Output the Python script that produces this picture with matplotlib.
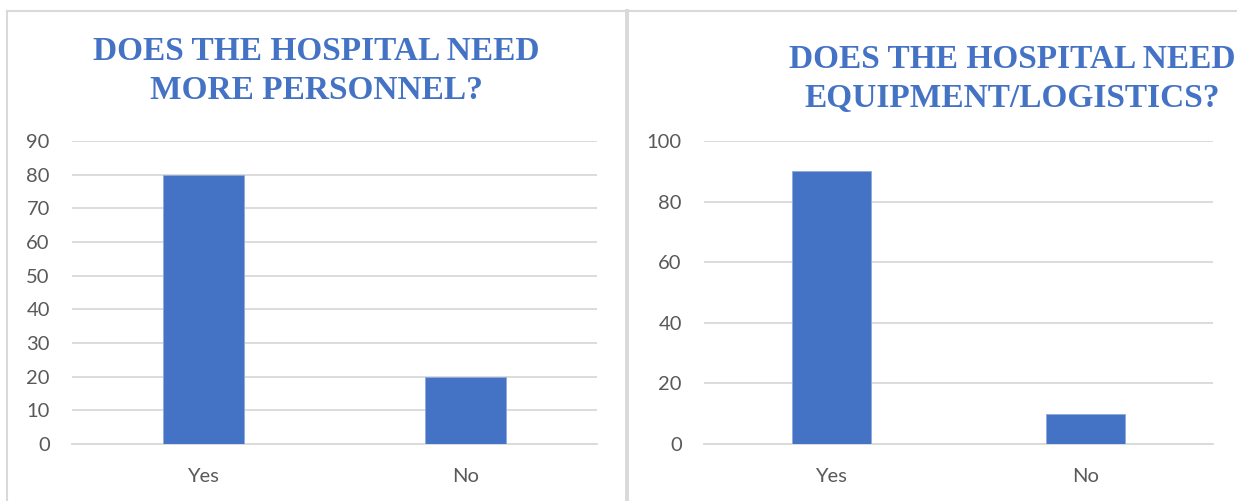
import matplotlib
matplotlib.use('Agg')
import matplotlib.pyplot as plt
from matplotlib.lines import Line2D

# data
categories = ['Yes', 'No']
personnel = [80, 20]
equipment = [90, 10]
title_left = 'DOES THE HOSPITAL NEED\nMORE PERSONNEL?'
title_right = 'DOES THE HOSPITAL NEED\nEQUIPMENT/LOGISTICS?'

W, H = 1237, 501
fig = plt.figure(figsize=(W / 100, H / 100), dpi=100)
fig.patch.set_facecolor('white')

bar_col = '#4472C4'
grid_col = '#D9D9D9'
txt_col = '#595959'
tick_font = 'Lato'


def setup(ax, values, ymax, step):
    ax.set_axisbelow(True)
    ax.bar(range(len(categories)), values, width=0.31, color=bar_col,
           edgecolor='#8FAADC', linewidth=0.6, zorder=3)
    ax.set_xlim(-0.5, len(categories) - 0.5)
    ax.set_ylim(0, ymax)
    ax.set_yticks(range(0, ymax + 1, step))
    ax.set_xticks(range(len(categories)))
    ax.set_xticklabels(categories)
    ax.yaxis.grid(True, color=grid_col, linewidth=1.3)
    for s in ['top', 'right', 'left']:
        ax.spines[s].set_visible(False)
    ax.spines['bottom'].set_color(grid_col)
    ax.spines['bottom'].set_linewidth(1.3)
    ax.tick_params(axis='both', length=0, labelsize=14.5, labelcolor=txt_col)
    ax.tick_params(axis='y', pad=16)
    ax.tick_params(axis='x', pad=17)
    for lab in ax.get_xticklabels() + ax.get_yticklabels():
        lab.set_fontfamily(tick_font)


# left chart
ax1 = fig.add_axes([72 / W, 1 - 444 / H, 525 / W, 303 / H])
setup(ax1, personnel, 90, 10)

# right chart
ax2 = fig.add_axes([704 / W, 1 - 444 / H, 509 / W, 303 / H])
setup(ax2, equipment, 100, 20)

# titles
tkw = dict(ha='center', va='center', fontsize=24, fontweight='bold',
           color=bar_col, family='Liberation Serif', linespacing=1.3)
fig.text(316 / W, 1 - 71 / H, title_left, **tkw)
fig.text(1012 / W, 1 - 79 / H, title_right, **tkw)

# frame lines
fig.add_artist(Line2D([7 / W, 1], [1 - 10.5 / H, 1 - 10.5 / H],
                      color=grid_col, linewidth=1.5))
fig.add_artist(Line2D([7.5 / W, 7.5 / W], [0, 1 - 10.5 / H],
                      color=grid_col, linewidth=1.5))
fig.add_artist(Line2D([627 / W, 627 / W], [0, 1 - 10.5 / H],
                      color=grid_col, linewidth=2.8))

fig.savefig('out.png', dpi=100, facecolor='white')
